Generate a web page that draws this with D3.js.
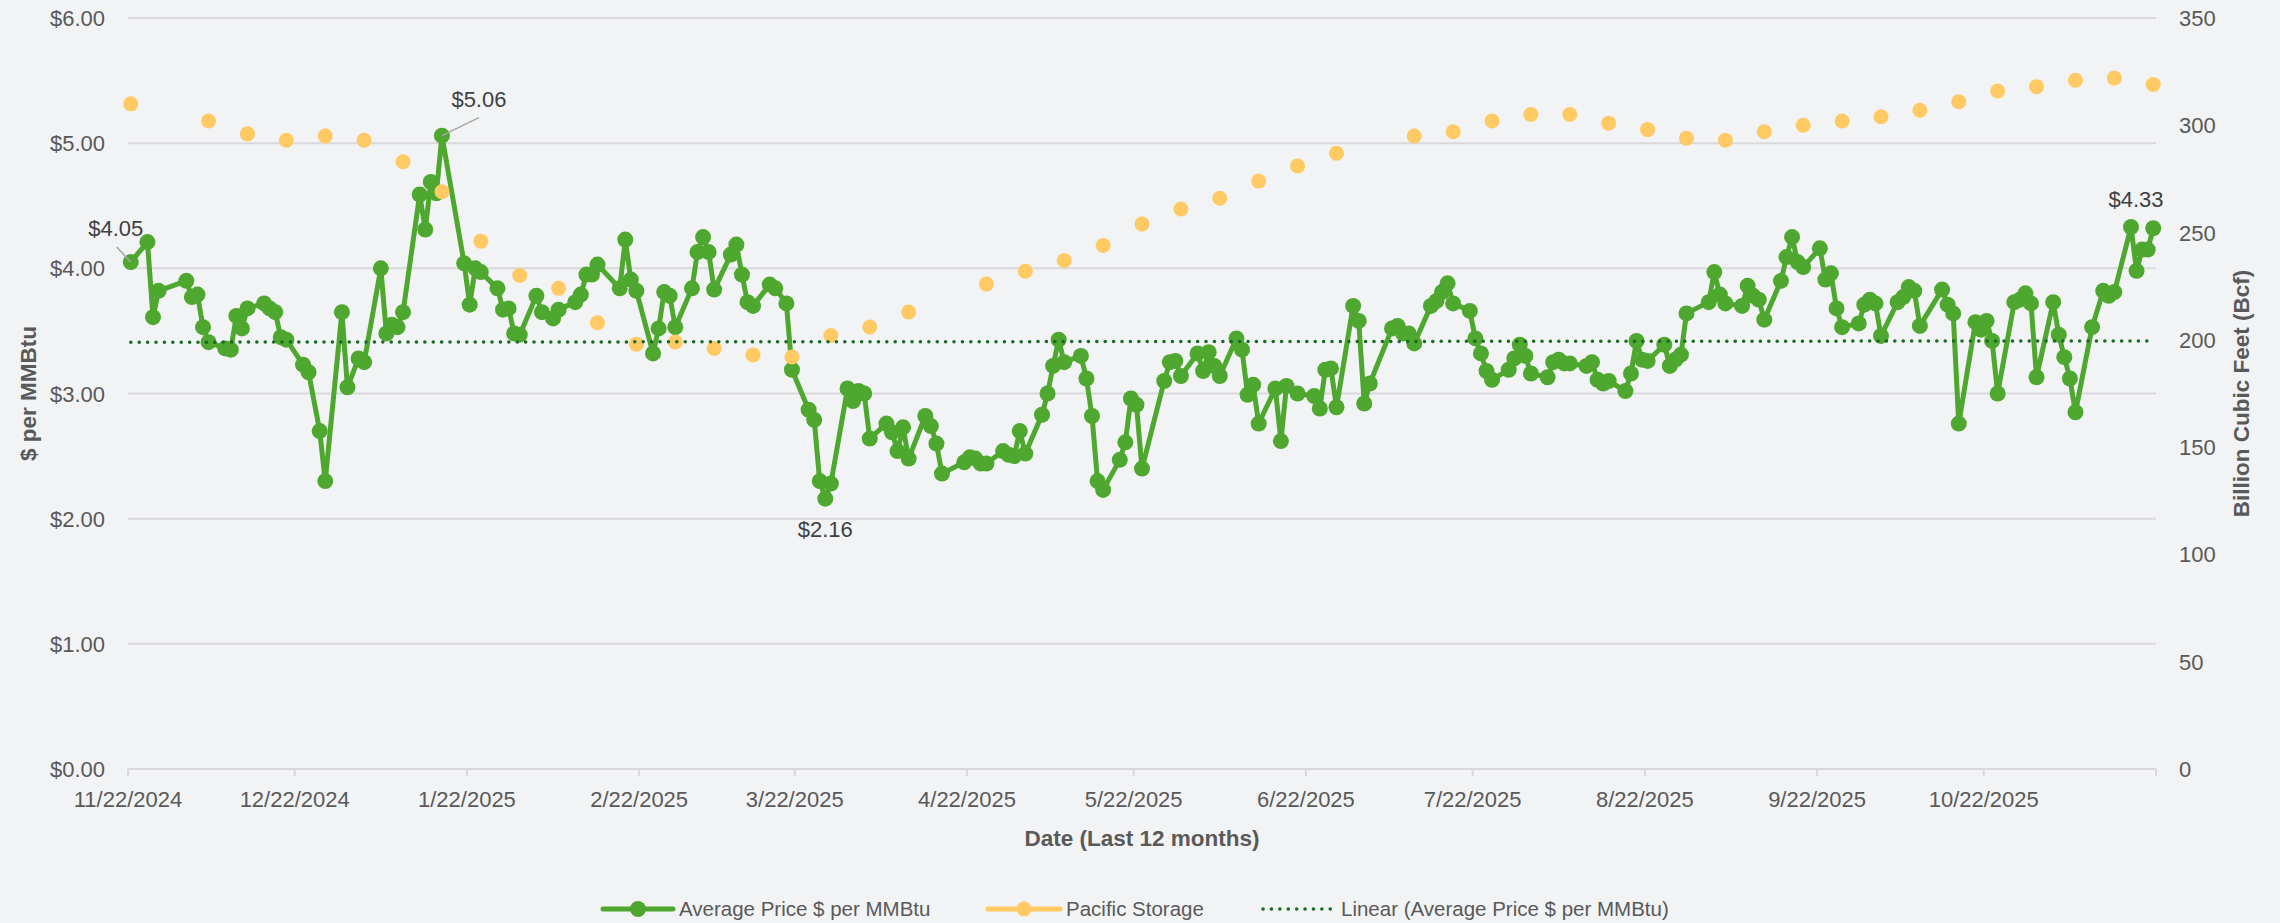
<!DOCTYPE html>
<html>
<head>
<meta charset="utf-8">
<script src="https://cdn.jsdelivr.net/npm/d3@7"></script>
<style>
  html, body { margin: 0; padding: 0; background: #f2f3f5; overflow: hidden; }
  svg { display: block; font-family: "Liberation Sans", Arial, sans-serif; }
</style>
</head>
<body>
<div id="chart"></div>
<script>
// Daily average price, $ per MMBtu
const priceDates = [
  "2024-11-22","2024-11-25","2024-11-26","2024-11-27",
  "2024-12-02","2024-12-03","2024-12-04","2024-12-05","2024-12-06","2024-12-09","2024-12-10","2024-12-11","2024-12-12","2024-12-13","2024-12-16","2024-12-17","2024-12-18","2024-12-19","2024-12-20","2024-12-23","2024-12-24","2024-12-26","2024-12-27","2024-12-30","2024-12-31",
  "2025-01-02","2025-01-03","2025-01-06","2025-01-07","2025-01-08","2025-01-09","2025-01-10","2025-01-13","2025-01-14","2025-01-15","2025-01-16","2025-01-17","2025-01-21","2025-01-22","2025-01-23","2025-01-24","2025-01-27","2025-01-28","2025-01-29","2025-01-30","2025-01-31",
  "2025-02-03","2025-02-04","2025-02-06","2025-02-07","2025-02-10","2025-02-11","2025-02-12","2025-02-13","2025-02-14","2025-02-18","2025-02-19","2025-02-20","2025-02-21","2025-02-24","2025-02-25","2025-02-26","2025-02-27","2025-02-28",
  "2025-03-03","2025-03-04","2025-03-05","2025-03-06","2025-03-07","2025-03-10","2025-03-11","2025-03-12","2025-03-13","2025-03-14","2025-03-17","2025-03-18","2025-03-20","2025-03-21","2025-03-24","2025-03-25","2025-03-26","2025-03-27","2025-03-28","2025-03-31",
  "2025-04-01","2025-04-02","2025-04-03","2025-04-04","2025-04-07","2025-04-08","2025-04-09","2025-04-10","2025-04-11","2025-04-14","2025-04-15","2025-04-16","2025-04-17","2025-04-21","2025-04-22","2025-04-23","2025-04-24","2025-04-25","2025-04-28","2025-04-29","2025-04-30",
  "2025-05-01","2025-05-02","2025-05-05","2025-05-06","2025-05-07","2025-05-08","2025-05-09","2025-05-12","2025-05-13","2025-05-14","2025-05-15","2025-05-16","2025-05-19","2025-05-20","2025-05-21","2025-05-22","2025-05-23","2025-05-27","2025-05-28","2025-05-29","2025-05-30",
  "2025-06-02","2025-06-03","2025-06-04","2025-06-05","2025-06-06","2025-06-09","2025-06-10","2025-06-11","2025-06-12","2025-06-13","2025-06-16","2025-06-17","2025-06-18","2025-06-20","2025-06-23","2025-06-24","2025-06-25","2025-06-26","2025-06-27","2025-06-30",
  "2025-07-01","2025-07-02","2025-07-03","2025-07-07","2025-07-08","2025-07-09","2025-07-10","2025-07-11","2025-07-14","2025-07-15","2025-07-16","2025-07-17","2025-07-18","2025-07-21","2025-07-22","2025-07-23","2025-07-24","2025-07-25","2025-07-28","2025-07-29","2025-07-30","2025-07-31",
  "2025-08-01","2025-08-04","2025-08-05","2025-08-06","2025-08-07","2025-08-08","2025-08-11","2025-08-12","2025-08-13","2025-08-14","2025-08-15","2025-08-18","2025-08-19","2025-08-20","2025-08-21","2025-08-22","2025-08-25","2025-08-26","2025-08-27","2025-08-28","2025-08-29",
  "2025-09-02","2025-09-03","2025-09-04","2025-09-05","2025-09-08","2025-09-09","2025-09-10","2025-09-11","2025-09-12","2025-09-15","2025-09-16","2025-09-17","2025-09-18","2025-09-19","2025-09-22","2025-09-23","2025-09-24","2025-09-25","2025-09-26","2025-09-29","2025-09-30",
  "2025-10-01","2025-10-02","2025-10-03","2025-10-06","2025-10-07","2025-10-08","2025-10-09","2025-10-10","2025-10-14","2025-10-15","2025-10-16","2025-10-17","2025-10-20","2025-10-21","2025-10-22","2025-10-23","2025-10-24","2025-10-27","2025-10-28","2025-10-29","2025-10-30","2025-10-31",
  "2025-11-03","2025-11-04","2025-11-05","2025-11-06","2025-11-07","2025-11-10","2025-11-12","2025-11-13","2025-11-14","2025-11-17","2025-11-18","2025-11-19","2025-11-20","2025-11-21"
];
const priceValues = [
  4.05, 4.21, 3.61, 3.82,
  3.90, 3.77, 3.79, 3.53, 3.41, 3.36, 3.35, 3.62, 3.52, 3.68, 3.72, 3.68, 3.65, 3.45, 3.43, 3.23, 3.17, 2.70, 2.30, 3.65, 3.05,
  3.28, 3.25, 4.00, 3.48, 3.55, 3.53, 3.65, 4.59, 4.31, 4.69, 4.60, 5.06, 4.04, 3.71, 4.00, 3.97, 3.84, 3.67, 3.68, 3.48, 3.47,
  3.78, 3.65, 3.60, 3.67, 3.73, 3.79, 3.95, 3.95, 4.03, 3.84, 4.23, 3.91, 3.82, 3.32, 3.52, 3.81, 3.78, 3.53,
  3.84, 4.13, 4.25, 4.13, 3.83, 4.11, 4.19, 3.95, 3.73, 3.70, 3.87, 3.84, 3.72, 3.19, 2.87, 2.79, 2.30, 2.16, 2.28, 3.04,
  2.94, 3.02, 3.00, 2.64, 2.76, 2.69, 2.54, 2.73, 2.48, 2.82, 2.74, 2.60, 2.36, 2.45, 2.49, 2.48, 2.44, 2.44, 2.54, 2.51, 2.50,
  2.70, 2.52, 2.83, 3.00, 3.22, 3.43, 3.25, 3.30, 3.12, 2.82, 2.30, 2.23, 2.47, 2.61, 2.96, 2.91, 2.40, 3.10, 3.25, 3.26, 3.14,
  3.32, 3.18, 3.33, 3.22, 3.14, 3.44, 3.35, 2.99, 3.07, 2.76, 3.04, 2.62, 3.06, 3.00, 2.98, 2.88, 3.19, 3.20, 2.89, 3.70,
  3.58, 2.92, 3.08, 3.52, 3.54, 3.48, 3.48, 3.40, 3.70, 3.74, 3.81, 3.88, 3.72, 3.66, 3.44, 3.32, 3.18, 3.11, 3.19, 3.28, 3.39, 3.30,
  3.16, 3.13, 3.25, 3.27, 3.24, 3.24, 3.22, 3.25, 3.11, 3.08, 3.10, 3.02, 3.16, 3.42, 3.27, 3.26, 3.39, 3.22, 3.27, 3.31, 3.64,
  3.73, 3.97, 3.79, 3.72, 3.70, 3.86, 3.78, 3.75, 3.59, 3.90, 4.09, 4.25, 4.05, 4.01, 4.16, 3.91, 3.96, 3.68, 3.53, 3.56, 3.71,
  3.75, 3.72, 3.46, 3.73, 3.77, 3.85, 3.82, 3.54, 3.83, 3.71, 3.64, 2.76, 3.57, 3.51, 3.58, 3.42, 3.00, 3.73, 3.75, 3.80, 3.72, 3.13,
  3.73, 3.47, 3.29, 3.12, 2.85, 3.53, 3.82, 3.78, 3.81, 4.33, 3.98, 4.15, 4.15, 4.32
];

// Weekly Pacific region storage, Bcf
const storageDates = [
  "2024-11-22","2024-12-06","2024-12-13","2024-12-20","2024-12-27",
  "2025-01-03","2025-01-10","2025-01-17","2025-01-24","2025-01-31",
  "2025-02-07","2025-02-14","2025-02-21","2025-02-28",
  "2025-03-07","2025-03-14","2025-03-21","2025-03-28",
  "2025-04-04","2025-04-11","2025-04-25",
  "2025-05-02","2025-05-09","2025-05-16","2025-05-23","2025-05-30",
  "2025-06-06","2025-06-13","2025-06-20","2025-06-27",
  "2025-07-11","2025-07-18","2025-07-25",
  "2025-08-01","2025-08-08","2025-08-15","2025-08-22","2025-08-29",
  "2025-09-05","2025-09-12","2025-09-19","2025-09-26",
  "2025-10-03","2025-10-10","2025-10-17","2025-10-24","2025-10-31",
  "2025-11-07","2025-11-14","2025-11-21"
];
const storageValues = [
  310, 302, 296, 293, 295,
  293, 283, 269, 246, 230,
  224, 208, 198, 199,
  196, 193, 192, 202,
  206, 213, 226,
  232, 237, 244, 254, 261,
  266, 274, 281, 287,
  295, 297, 302,
  305, 305, 301, 298, 294,
  293, 297, 300, 302,
  304, 307, 311, 316, 318,
  321, 322, 319
];

// Linear trend of the price series, value at first and last price date
const trendValues = [3.41, 3.42];

const xDomain = ["2024-11-22", "2025-11-22"];
const xTickDates = ["2024-11-22","2024-12-22","2025-01-22","2025-02-22","2025-03-22","2025-04-22",
  "2025-05-22","2025-06-22","2025-07-22","2025-08-22","2025-09-22","2025-10-22","2025-11-22"];
const priceTicks = [0, 1, 2, 3, 4, 5, 6];
const storageTicks = [0, 50, 100, 150, 200, 250, 300, 350];
const labelledDates = ["2024-11-22", "2025-01-17", "2025-03-27", "2025-11-17"];
const legendNames = ["Average Price $ per MMBtu", "Pacific Storage", "Linear (Average Price $ per MMBtu)"];

const width = 2280, height = 923;
const margin = {top: 18, left: 128, right: 124, bottom: 154};
const innerWidth = width - margin.left - margin.right;
const innerHeight = height - margin.top - margin.bottom;

const GREEN = "#4ea72e", YELLOW = "#ffca64", TREND = "#196b24";
const GRID = "#d9d9db", TICK_TEXT = "#595959";

const parse = d3.utcParse("%Y-%m-%d");
const prices = priceDates.map((d, i) => ({date: parse(d), value: priceValues[i]}));
const storage = storageDates.map((d, i) => ({date: parse(d), value: storageValues[i]}));

const svg = d3.select("#chart")
    .append("svg")
        .attr("width", width)
        .attr("height", height)
        .attr("viewBox", `0 0 ${width} ${height}`);

svg.append("rect")
    .attr("width", width)
    .attr("height", height)
    .attr("fill", "#f2f3f5");

// Scales, in page coordinates
const xScale = d3.scaleUtc()
    .domain(xDomain.map(parse))
    .range([margin.left, width - margin.right]);
const yScale = d3.scaleLinear()
    .domain([0, 6])
    .range([height - margin.bottom, margin.top]);
const yScaleRight = d3.scaleLinear()
    .domain([0, 350])
    .range([height - margin.bottom, margin.top]);

const x0 = margin.left, x1 = width - margin.right, yBase = height - margin.bottom;

// Excel date axis puts each point in the middle of its day
const halfDay = (xScale(d3.utcDay.offset(xScale.domain()[0], 1)) - xScale(xScale.domain()[0])) / 2;
const xPos = d => xScale(d) + halfDay;

// Gridlines
svg.append("g")
    .selectAll("line")
    .data(priceTicks)
    .join("line")
        .attr("x1", x0)
        .attr("x2", x1)
        .attr("y1", d => yScale(d))
        .attr("y2", d => yScale(d))
        .attr("stroke", GRID)
        .attr("stroke-width", 2);

// Left axis labels
const fmtPrice = d3.format("$.2f");
const leftLabels = svg.append("g")
    .attr("fill", TICK_TEXT)
    .style("font-size", "22px")
    .attr("text-anchor", "end");
priceTicks.forEach(t => {
    leftLabels.append("text")
        .attr("x", x0 - 23)
        .attr("y", yScale(t) + 8)
        .text(fmtPrice(t));
});

// Right axis labels
const rightLabels = svg.append("g")
    .attr("fill", TICK_TEXT)
    .style("font-size", "22px");
storageTicks.forEach(t => {
    rightLabels.append("text")
        .attr("x", x1 + 23)
        .attr("y", yScaleRight(t) + 8)
        .text(t);
});

// X axis ticks and labels
const ticks = xTickDates.map(parse);
svg.append("g")
    .selectAll("line")
    .data(ticks)
    .join("line")
        .attr("x1", d => xScale(d))
        .attr("x2", d => xScale(d))
        .attr("y1", yBase)
        .attr("y2", yBase + 7)
        .attr("stroke", GRID)
        .attr("stroke-width", 2);

const fmtDate = d3.utcFormat("%-m/%-d/%Y");
const bottomLabels = svg.append("g")
    .attr("fill", TICK_TEXT)
    .style("font-size", "22px")
    .attr("text-anchor", "middle");
ticks.slice(0, -1).forEach(t => { // last tick has no label in the original
    bottomLabels.append("text")
        .attr("x", xScale(t))
        .attr("y", yBase + 38)
        .text(fmtDate(t));
});

// Axis titles
svg.append("text")
    .attr("x", (x0 + x1) / 2)
    .attr("y", 846)
    .attr("text-anchor", "middle")
    .attr("fill", TICK_TEXT)
    .style("font-size", "22.5px")
    .style("font-weight", "bold")
    .text("Date (Last 12 months)");

svg.append("text")
    .attr("transform", `translate(36, ${(margin.top + yBase) / 2}) rotate(-90)`)
    .attr("text-anchor", "middle")
    .attr("fill", TICK_TEXT)
    .style("font-size", "22.5px")
    .style("font-weight", "bold")
    .text("$ per MMBtu");

svg.append("text")
    .attr("transform", `translate(2249, ${(margin.top + yBase) / 2}) rotate(-90)`)
    .attr("text-anchor", "middle")
    .attr("fill", TICK_TEXT)
    .style("font-size", "22.5px")
    .style("font-weight", "bold")
    .text("Billion Cubic Feet (Bcf)");

// Price line with markers
const priceLine = d3.line()
    .x(d => xPos(d.date))
    .y(d => yScale(d.value));

svg.append("path")
    .datum(prices)
    .attr("fill", "none")
    .attr("stroke", GREEN)
    .attr("stroke-width", 5)
    .attr("stroke-linejoin", "round")
    .attr("d", priceLine);

svg.append("g")
    .selectAll("circle")
    .data(prices)
    .join("circle")
        .attr("cx", d => xPos(d.date))
        .attr("cy", d => yScale(d.value))
        .attr("r", 8)
        .attr("fill", GREEN);

// Storage markers (secondary axis)
svg.append("g")
    .selectAll("circle")
    .data(storage)
    .join("circle")
        .attr("cx", d => xPos(d.date))
        .attr("cy", d => yScaleRight(d.value))
        .attr("r", 7.5)
        .attr("fill", YELLOW);

// Linear trendline
const trendPoints = [
    {date: prices[0].date, value: trendValues[0]},
    {date: prices[prices.length - 1].date, value: trendValues[1]}
];
svg.append("path")
    .datum(trendPoints)
    .attr("fill", "none")
    .attr("stroke", TREND)
    .attr("stroke-width", 3.5)
    .attr("stroke-linecap", "round")
    .attr("stroke-dasharray", "0.1 8.3")
    .attr("d", priceLine);

// Data labels
const labelStyle = [
    {dx: -15, dy: -26, leader: [-14, -15]},
    {dx: 37, dy: -29, leader: [37, -18]},
    {dx: 0, dy: 38, leader: null},
    {dx: 5, dy: -20, leader: null}
];
const fmtLabel = d3.format("$.2f");
labelledDates.forEach((ds, i) => {
    const p = prices.find(d => +d.date === +parse(ds));
    const cx = xPos(p.date), cy = yScale(p.value);
    const s = labelStyle[i];
    if (s.leader) {
        svg.append("line")
            .attr("x1", cx)
            .attr("y1", cy)
            .attr("x2", cx + s.leader[0])
            .attr("y2", cy + s.leader[1])
            .attr("stroke", "#a6a6a6")
            .attr("stroke-width", 1.5);
    }
    svg.append("text")
        .attr("x", cx + s.dx)
        .attr("y", cy + s.dy)
        .attr("text-anchor", "middle")
        .attr("fill", "#404040")
        .style("font-size", "22px")
        .text(fmtLabel(p.value));
});

// Legend
const legendY = 909;
const legend = svg.append("g");
const legendItems = [
    {x: 603, w: 70, text: 679},
    {x: 988, w: 72, text: 1066},
    {x: 1263, w: 73, text: 1341}
];
legendItems.forEach((it, i) => {
    if (i < 2) {
        const col = i === 0 ? GREEN : YELLOW;
        legend.append("line")
            .attr("x1", it.x).attr("x2", it.x + it.w)
            .attr("y1", legendY).attr("y2", legendY)
            .attr("stroke", col)
            .attr("stroke-width", 5)
            .attr("stroke-linecap", "round");
        legend.append("circle")
            .attr("cx", it.x + it.w / 2)
            .attr("cy", legendY)
            .attr("r", i === 0 ? 8 : 7.5)
            .attr("fill", col);
    } else {
        legend.append("line")
            .attr("x1", it.x).attr("x2", it.x + it.w)
            .attr("y1", legendY).attr("y2", legendY)
            .attr("stroke", TREND)
            .attr("stroke-width", 3.5)
            .attr("stroke-linecap", "round")
            .attr("stroke-dasharray", "0.1 8.3");
    }
    legend.append("text")
        .attr("x", it.text)
        .attr("y", legendY + 7)
        .attr("fill", TICK_TEXT)
        .style("font-size", "20.5px")
        .text(legendNames[i]);
});
</script>
</body>
</html>
